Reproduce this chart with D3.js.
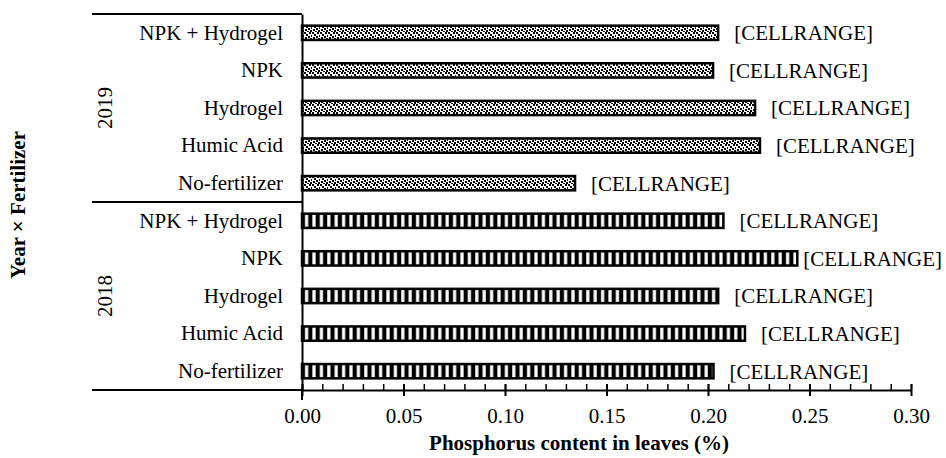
<!DOCTYPE html>
<html>
<head>
<meta charset="utf-8">
<script src="https://cdn.jsdelivr.net/npm/d3@7"></script>
<style>
  body { margin: 0; background: #fff; }
  svg text { font-family: "Liberation Serif", "Times New Roman", serif; fill: #000; }
</style>
</head>
<body>
<div id="chart"></div>
<script>
// chart data
const years = ["2019", "2018"];
const fertilizers = ["NPK + Hydrogel", "NPK", "Hydrogel", "Humic Acid", "No-fertilizer"];
const values2019 = [0.205, 0.2025, 0.2232, 0.2256, 0.1345];
const values2018 = [0.2076, 0.244, 0.205, 0.2182, 0.2027];
const xTicks = [0, 0.05, 0.1, 0.15, 0.2, 0.25, 0.3];
const xMinorTicks = [0, 0.01, 0.02, 0.03, 0.04, 0.05, 0.06, 0.07, 0.08, 0.09, 0.1, 0.11, 0.12, 0.13, 0.14, 0.15,
  0.16, 0.17, 0.18, 0.19, 0.2, 0.21, 0.22, 0.23, 0.24, 0.25, 0.26, 0.27, 0.28, 0.29, 0.3];
const dataLabel = "[CELLRANGE]";

const width = 946, height = 458;
const plot = { left: 302, right: 911, top: 14, bottom: 390 };

const rows = [];
years.forEach((yr) => {
  const vals = yr === "2019" ? values2019 : values2018;
  fertilizers.forEach((f, i) => rows.push({ year: yr, fert: f, key: yr + "|" + f, value: vals[i] }));
});

const svg = d3.select("#chart").append("svg")
  .attr("width", width)
  .attr("height", height);

// fill patterns
const defs = svg.append("defs");
const dots = defs.append("pattern")
  .attr("id", "dots")
  .attr("patternUnits", "userSpaceOnUse")
  .attr("width", 8).attr("height", 8);
dots.append("rect").attr("width", 8).attr("height", 8).attr("fill", "#fff");
[[0, 0], [5, 0], [2, 2], [7, 3], [4, 4], [1, 5], [6, 6], [3, 7]].forEach(([px, py]) => {
  dots.append("rect").attr("x", px).attr("y", py).attr("width", 2).attr("height", 2).attr("fill", "#000");
});

const stripes = defs.append("pattern")
  .attr("id", "stripes")
  .attr("patternUnits", "userSpaceOnUse")
  .attr("x", plot.left)
  .attr("width", 7.4).attr("height", 8);
stripes.append("rect").attr("width", 7.4).attr("height", 8).attr("fill", "#000");
stripes.append("rect").attr("x", 3).attr("width", 3.2).attr("height", 8).attr("fill", "#fff");

const x = d3.scaleLinear().domain([0, 0.3]).range([plot.left, plot.right]);
const y = d3.scaleBand()
  .domain(rows.map((d) => d.key))
  .range([plot.top, plot.bottom])
  .paddingInner(0.62)
  .paddingOuter(0.31);

// bars
svg.selectAll(".bar")
  .data(rows)
  .join("rect")
  .attr("class", "bar")
  .attr("x", x(0))
  .attr("y", (d) => y(d.key))
  .attr("width", (d) => x(d.value) - x(0))
  .attr("height", y.bandwidth())
  .attr("fill", (d) => (d.year === "2019" ? "url(#dots)" : "url(#stripes)"))
  .attr("stroke", "#000")
  .attr("stroke-width", 2.5);

// data labels, kept inside the page on the right
svg.selectAll(".val")
  .data(rows)
  .join("text")
  .attr("class", "val")
  .attr("x", (d) => x(d.value) + 16)
  .attr("y", (d) => y(d.key) + y.bandwidth() / 2)
  .attr("dy", "0.35em")
  .style("font-size", "21px")
  .text(dataLabel)
  .each(function (d) {
    const w = this.getComputedTextLength();
    const x0 = x(d.value) + 16;
    if (x0 + w > width - 4) d3.select(this).attr("x", Math.max(x(d.value) + 4, width - 4 - w));
  });

// y axis with category labels
const yAxis = svg.append("g")
  .attr("transform", `translate(${plot.left},0)`)
  .call(d3.axisLeft(y).tickSize(0).tickSizeOuter(0).tickPadding(19).tickFormat((d) => d.split("|")[1]));
yAxis.select(".domain").attr("stroke-width", 2);
yAxis.selectAll("text").style("font-size", "21px").style("font-family", "Liberation Serif, serif");

// group separators and year labels
const groupEdges = [plot.top, (plot.top + plot.bottom) / 2, plot.bottom];
svg.selectAll(".sep")
  .data(groupEdges)
  .join("line")
  .attr("class", "sep")
  .attr("x1", 92).attr("x2", plot.left)
  .attr("y1", (d) => d).attr("y2", (d) => d)
  .attr("stroke", "#000").attr("stroke-width", 2);
svg.append("line")
  .attr("x1", plot.left).attr("x2", plot.left)
  .attr("y1", plot.bottom).attr("y2", plot.bottom + 10)
  .attr("stroke", "#000").attr("stroke-width", 2);

svg.selectAll(".year")
  .data(years)
  .join("text")
  .attr("class", "year")
  .attr("transform", (d, i) => `translate(112,${(groupEdges[i] + groupEdges[i + 1]) / 2}) rotate(-90)`)
  .attr("text-anchor", "middle")
  .style("font-size", "21px")
  .text((d) => d);

// x axis: minor ticks inside, major ticks crossing
svg.append("g")
  .attr("transform", `translate(0,${plot.bottom})`)
  .call(d3.axisBottom(x).tickValues(xMinorTicks).tickSize(-6).tickSizeOuter(0).tickFormat(""))
  .call((g) => g.select(".domain").remove())
  .selectAll("line").attr("stroke-width", 1.5);

const xAxis = svg.append("g")
  .attr("transform", `translate(0,${plot.bottom})`)
  .call(d3.axisBottom(x).tickValues(xTicks).tickSize(6).tickSizeOuter(0).tickPadding(12).tickFormat(d3.format(".2f")));
xAxis.select(".domain").attr("stroke-width", 2);
xAxis.selectAll(".tick line").attr("y1", -6).attr("stroke-width", 2);
xAxis.selectAll("text").style("font-size", "21px").style("font-family", "Liberation Serif, serif");

// axis titles
svg.append("text")
  .attr("x", 579)
  .attr("y", 450)
  .attr("text-anchor", "middle")
  .style("font-size", "21px")
  .style("font-weight", "bold")
  .text("Phosphorus content in leaves (%)");

svg.append("text")
  .attr("transform", `translate(25,205) rotate(-90)`)
  .attr("text-anchor", "middle")
  .style("font-size", "21px")
  .style("font-weight", "bold")
  .text("Year × Fertilizer");
</script>
</body>
</html>
